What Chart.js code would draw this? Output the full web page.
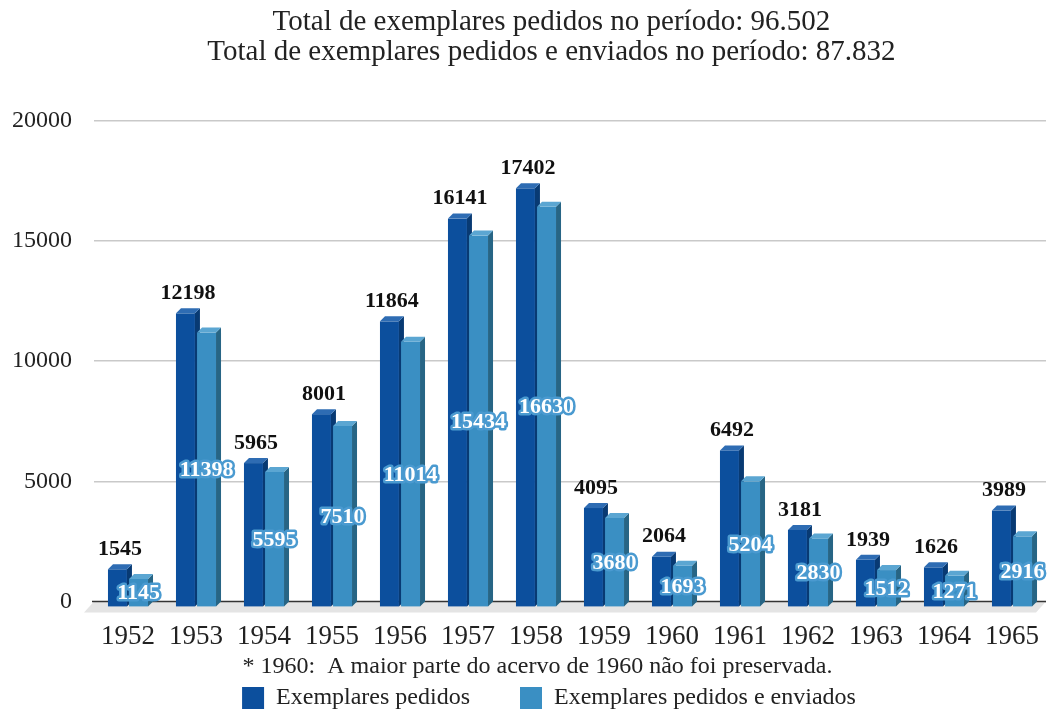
<!DOCTYPE html>
<html>
<head>
<meta charset="utf-8">
<script src="https://cdn.jsdelivr.net/npm/chart.js@4"></script>
<style>
  body { margin: 0; background: #fff; }
  #wrap { width: 1058px; height: 713px; }
</style>
</head>
<body>
<div id="wrap"><canvas id="chart"></canvas></div>
<script>
// data
const years = ['1952','1953','1954','1955','1956','1957','1958','1959','1960','1961','1962','1963','1964','1965'];
const pedidos = [1545, 12198, 5965, 8001, 11864, 16141, 17402, 4095, 2064, 6492, 3181, 1939, 1626, 3989];
const enviados = [1145, 11398, 5595, 7510, 11014, 15434, 16630, 3680, 1693, 5204, 2830, 1512, 1271, 2916];
const yTicks = [0, 5000, 10000, 15000, 20000];

const titleLines = ['Total de exemplares pedidos no período: 96.502', 'Total de exemplares pedidos e enviados no período: 87.832'];
const footnote = '* 1960:  A maior parte do acervo de 1960 não foi preservada.';

const serif = '"Liberation Serif", "Times New Roman", serif';
const depth = 5; // fake 3d offset

// colours for front / side / top
const darkCols = { front: '#0c4f9d', side: '#083a73', top: '#2e6cb3' };
const lightCols = { front: '#3a8fc3', side: '#276585', top: '#5ba6d2' };

const nb = (n) => '\u00a0'.repeat(n); // used to nudge centred texts

// floor under the zero line, drawn before the bars
const floorPlugin = {
    id: 'floor',
    beforeDatasetsDraw(chart) {
        let ctx = chart.ctx;
        let area = chart.chartArea;
        let base = chart.scales.y.getPixelForValue(0);
        ctx.save();
        ctx.fillStyle = '#e4e4e4';
        ctx.beginPath();
        ctx.moveTo(area.left, base);
        ctx.lineTo(area.right, base);
        ctx.lineTo(area.right - 10, base + 11);
        ctx.lineTo(area.left - 10, base + 11);
        ctx.closePath();
        ctx.fill();
        ctx.strokeStyle = '#333';
        ctx.lineWidth = 1.5;
        ctx.beginPath();
        ctx.moveTo(area.left - 2, base);
        ctx.lineTo(area.right, base);
        ctx.stroke();
        ctx.restore();
    }
};

// front face sits "depth" px lower than the value, top face goes back up to it
function drawBox(ctx, bar, cols, base) {
    let x0 = bar.x - bar.width / 2;
    let x1 = bar.x + bar.width / 2;
    let y = bar.y;
    // front
    ctx.fillStyle = cols.front;
    ctx.fillRect(x0, y + depth, x1 - x0, base - y);
    // side
    ctx.fillStyle = cols.side;
    ctx.beginPath();
    ctx.moveTo(x1, y + depth);
    ctx.lineTo(x1 + depth, y);
    ctx.lineTo(x1 + depth, base);
    ctx.lineTo(x1, base + depth);
    ctx.closePath();
    ctx.fill();
    // top
    ctx.fillStyle = cols.top;
    ctx.beginPath();
    ctx.moveTo(x0, y + depth);
    ctx.lineTo(x1, y + depth);
    ctx.lineTo(x1 + depth, y);
    ctx.lineTo(x0 + depth, y);
    ctx.closePath();
    ctx.fill();
}

// skip the flat bars, then draw each pair as boxes (dark first so the light one covers its side)
const boxPlugin = {
    id: 'box3d',
    beforeDatasetDraw() {
        return false;
    },
    afterDatasetsDraw(chart) {
        let ctx = chart.ctx;
        let base = chart.scales.y.getPixelForValue(0);
        let darkBars = chart.getDatasetMeta(0).data;
        let lightBars = chart.getDatasetMeta(1).data;
        ctx.save();
        for (let i = 0; i < darkBars.length; i++) {
            drawBox(ctx, darkBars[i], darkCols, base);
            drawBox(ctx, lightBars[i], lightCols, base);
        }
        ctx.restore();
    }
};

// value labels: black above dark bars, white outlined inside light bars
const labelPlugin = {
    id: 'valueLabels',
    afterDatasetsDraw(chart) {
        let ctx = chart.ctx;
        let base = chart.scales.y.getPixelForValue(0);
        ctx.save();
        ctx.font = 'bold 22px ' + serif;
        ctx.textAlign = 'center';
        ctx.textBaseline = 'middle';
        chart.getDatasetMeta(0).data.forEach((bar, i) => {
            ctx.fillStyle = '#111';
            ctx.fillText(pedidos[i], bar.x + depth / 2, bar.y - 15);
        });
        chart.getDatasetMeta(1).data.forEach((bar, i) => {
            let y = (bar.y + base) / 2 + 6;
            ctx.lineJoin = 'round';
            ctx.lineWidth = 5;
            ctx.strokeStyle = '#4a9ad0';
            ctx.strokeText(enviados[i], bar.x, y);
            ctx.fillStyle = '#fff';
            ctx.fillText(enviados[i], bar.x, y);
        });
        ctx.restore();
    }
};

let chart = new Chart(document.getElementById('chart'), {
    type: 'bar',
    data: {
        labels: years,
        datasets: [
            { label: 'Exemplares pedidos', data: pedidos, backgroundColor: darkCols.front, borderWidth: 0 },
            { label: 'Exemplares pedidos e enviados', data: enviados, backgroundColor: lightCols.front, borderWidth: 0 }
        ]
    },
    options: {
        responsive: true,
        maintainAspectRatio: false,
        animation: false,
        layout: { padding: { left: 11, right: -12, top: 0, bottom: -7 } },
        datasets: { bar: { categoryPercentage: 0.62, barPercentage: 0.9 } },
        scales: {
            x: {
                grid: { display: false, drawTicks: false },
                border: { display: false },
                ticks: { color: '#222', font: { family: serif, size: 27 }, padding: 19, maxRotation: 0 },
                afterFit: (axis) => { axis.height = 55; }
            },
            y: {
                min: 0,
                max: 20000,
                afterBuildTicks: (axis) => { axis.ticks = yTicks.map(v => ({ value: v })); },
                afterFit: (axis) => { axis.width = 83; },
                grid: { color: '#c9c9c9', lineWidth: 1.5, drawTicks: false },
                border: { display: false },
                ticks: { color: '#222', font: { family: serif, size: 24 }, padding: 22, callback: (v) => String(v) }
            }
        },
        plugins: {
            title: {
                display: true,
                text: titleLines.map(t => nb(3) + t),
                color: '#222',
                font: { family: serif, size: 29, weight: 'normal', lineHeight: 1.05 },
                padding: { top: 7, bottom: 53 }
            },
            subtitle: {
                display: true,
                position: 'bottom',
                weight: 500, // between the x axis and the legend
                text: footnote + nb(1),
                color: '#222',
                font: { family: serif, size: 24, weight: 'normal', lineHeight: 0.9 },
                padding: 0
            },
            legend: {
                position: 'bottom',
                fullSize: false,
                labels: {
                    color: '#222',
                    font: { family: serif, size: 24 },
                    boxWidth: 22,
                    boxHeight: 22,
                    padding: 8,
                    generateLabels: (chart) => {
                        let items = Chart.defaults.plugins.legend.labels.generateLabels(chart);
                        items[0].text += nb(7);
                        items[1].text += nb(7);
                        return items;
                    }
                }
            },
            tooltip: { enabled: false }
        }
    },
    plugins: [floorPlugin, boxPlugin, labelPlugin]
});
</script>
</body>
</html>
